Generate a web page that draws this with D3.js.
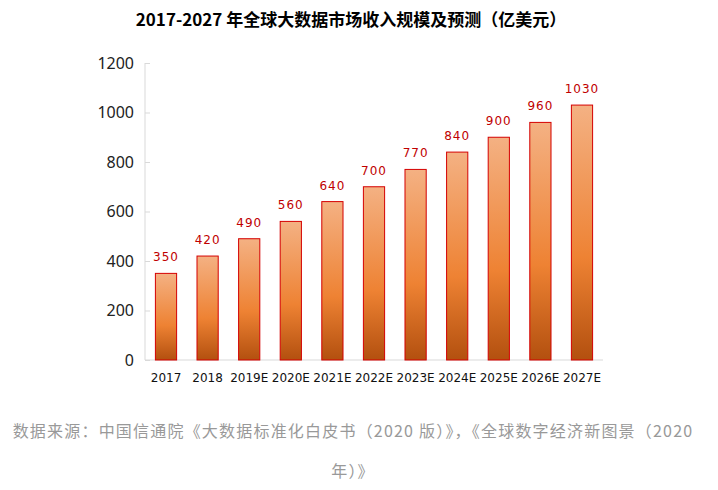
<!DOCTYPE html>
<html><head><meta charset="utf-8">
<script src="https://cdn.jsdelivr.net/npm/d3@7"></script>
<style>
body{margin:0;background:#fff;}
svg{display:block;}
</style></head>
<body>
<svg id="c" width="718" height="490"></svg>
<script>
const categories = ["2017","2018","2019E","2020E","2021E","2022E","2023E","2024E","2025E","2026E","2027E"];
const values = [350,420,490,560,640,700,770,840,900,960,1030];
const yTicks = [0,200,400,600,800,1000,1200];
const title = "2017-2027 年全球大数据市场收入规模及预测（亿美元）";
const sourceLines = ["数据来源：中国信通院《大数据标准化白皮书（2020 版）》，《全球数字经济新图景（2020","年）》"];

const svg = d3.select("#c");
const x = d3.scaleBand().domain(categories).range([145,603]).paddingInner(0.49).paddingOuter(0.25);
const y = d3.scaleLinear().domain([0,1200]).range([360,63]);

const defs = svg.append("defs");
const g = defs.append("linearGradient").attr("id","gr").attr("x1",0).attr("y1",0).attr("x2",0).attr("y2",1);
g.append("stop").attr("offset","0%").attr("stop-color","#f4b183");
g.append("stop").attr("offset","60%").attr("stop-color","#ee8233");
g.append("stop").attr("offset","100%").attr("stop-color","#b3500f");

svg.append("text").attr("x",351).attr("y",26).attr("text-anchor","middle")
  .attr("font-family","'Noto Sans CJK SC', sans-serif").attr("font-weight","bold").attr("font-size",17)
  .attr("fill","#000").text(title);

// y axis
const ya = svg.append("g").attr("transform","translate(145,0)")
  .call(d3.axisLeft(y).tickValues(yTicks).tickFormat(d3.format("d")).tickSize(0).tickPadding(11));
ya.select(".domain").attr("stroke","#d9d9d9").attr("d","M0,63V360");
ya.selectAll(".tick").append("line").attr("x1",0).attr("x2",5).attr("stroke","#d9d9d9");
ya.selectAll("text").attr("font-family","'Noto Sans', sans-serif").attr("font-size",16).attr("fill","#222");

// x axis
const xa = svg.append("g").attr("transform","translate(0,360)")
  .call(d3.axisBottom(x).tickSize(0).tickPadding(13));
xa.select(".domain").attr("stroke","#d9d9d9").attr("d","M145,0H603");
xa.selectAll("text").attr("font-family","'DejaVu Sans', sans-serif").attr("font-size",12).attr("fill","#111");

svg.append("g").selectAll("rect").data(values).join("rect")
  .attr("x",(d,i)=>x(categories[i])).attr("width",x.bandwidth())
  .attr("y",d=>y(d)).attr("height",d=>y(0)-y(d))
  .attr("fill","url(#gr)").attr("stroke","#d40000").attr("stroke-width",1);

svg.append("g").selectAll("text").data(values).join("text")
  .attr("x",(d,i)=>x(categories[i])+x.bandwidth()/2).attr("y",d=>y(d)-12)
  .attr("text-anchor","middle").attr("font-family","'DejaVu Sans', sans-serif").attr("font-size",12)
  .attr("letter-spacing",1).attr("fill","#c00000").text(d=>d);

svg.append("g").selectAll("text").data(sourceLines).join("text")
  .attr("x",353).attr("y",(d,i)=>437+i*40).attr("text-anchor","middle")
  .attr("font-family","'Noto Sans CJK SC', sans-serif").attr("font-size",16).attr("letter-spacing",1.2).attr("fill","#999")
  .text(d=>d);
</script>
</body></html>
